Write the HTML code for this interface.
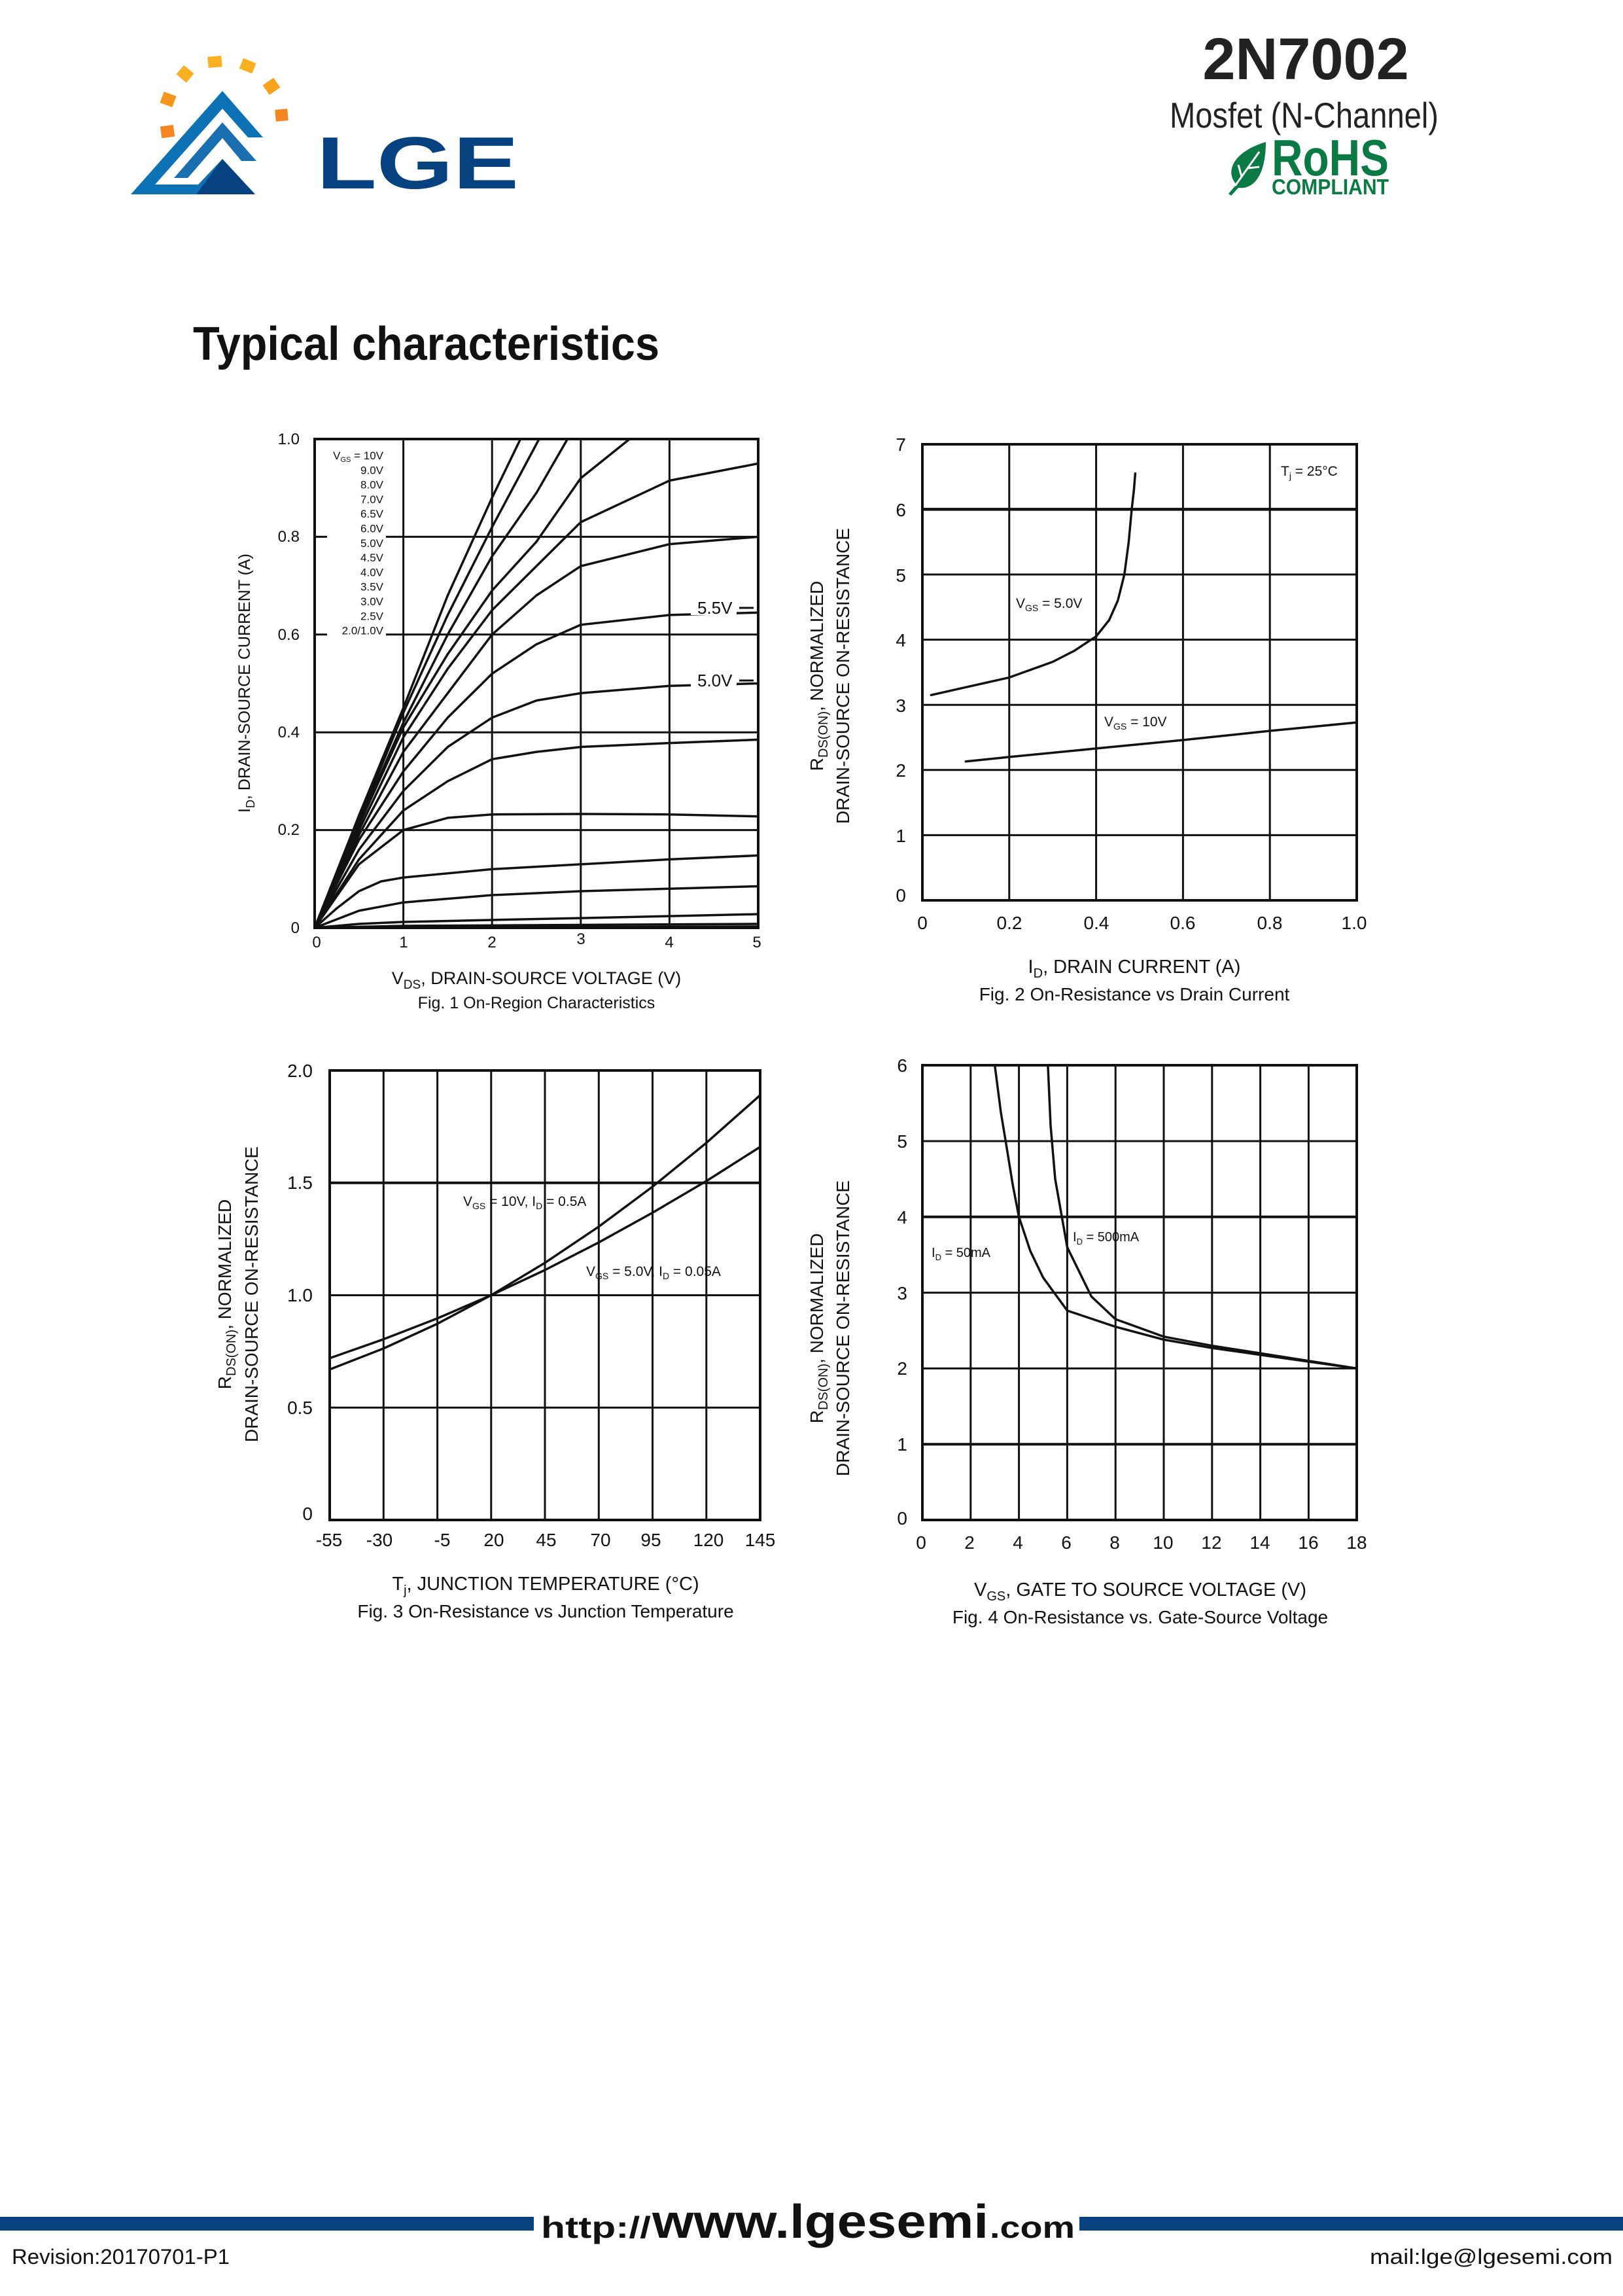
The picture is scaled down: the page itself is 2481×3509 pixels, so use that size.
<!DOCTYPE html>
<html><head><meta charset="utf-8">
<style>
html,body{margin:0;padding:0;background:#fff;}
svg{display:block;}
text{font-family:"Liberation Sans",Arial,sans-serif;fill:#111;}
.g line{stroke:#111;stroke-width:3;}
.c polyline{stroke:#111;stroke-width:3.5;fill:none;stroke-linejoin:round;stroke-linecap:round;}
</style></head>
<body>
<svg width="2481" height="3509" viewBox="0 0 2481 3509" xmlns="http://www.w3.org/2000/svg">
<rect width="2481" height="3509" fill="#fff"/>
<!-- Logo -->
<g>
<rect x="246" y="192" width="20" height="18" fill="#f5861f" transform="rotate(-8 256 201)"/>
<rect x="247" y="143" width="20" height="18" fill="#f7941d" transform="rotate(20 257 152)"/>
<rect x="273" y="104" width="20" height="18" fill="#fbb022" transform="rotate(40 283 113)"/>
<rect x="318" y="86" width="21" height="17" fill="#fbb022" transform="rotate(-5 328 95)"/>
<rect x="368" y="92" width="21" height="17" fill="#fbb022" transform="rotate(22 378 101)"/>
<rect x="405" y="123" width="20" height="18" fill="#f9a21b" transform="rotate(-35 415 132)"/>
<rect x="421" y="167" width="19" height="18" fill="#f5861f" transform="rotate(-5 430 176)"/>
<polygon points="340,139 402,210 379,210 340,166 237,282 303,282 340,243 390,297 200,297" fill="#0d72b5"/>
<polygon points="340,187 392,246 369,246 340,211 287,272 266,272" fill="#1a6fb0"/>
<polygon points="340,243 390,297 300,297" fill="#05427f"/>
<text x="484" y="288" font-size="113" font-weight="bold" textLength="309" lengthAdjust="spacingAndGlyphs" style="fill:#05427f">LGE</text>
</g>
<!-- Header right -->
<text x="1996" y="121" font-size="90" font-weight="bold" text-anchor="middle" style="fill:#222">2N7002</text>
<text x="1788" y="195" font-size="55" textLength="411" lengthAdjust="spacingAndGlyphs" style="fill:#222">Mosfet (N-Channel)</text>
<path d="M1878,296 L1890,282 C1872,262 1885,232 1935,217 C1935,262 1920,290 1893,287 L1882,299 Z" fill="#0a7a45"/>
<path d="M1888,284 L1925,232 M1898,270 L1893,252 M1908,257 L1925,255" stroke="#fff" stroke-width="3" fill="none"/>
<text x="1944" y="268" font-size="78" font-weight="bold" textLength="179" lengthAdjust="spacingAndGlyphs" style="fill:#0a7a45">RoHS</text>
<text x="1944" y="297" font-size="33" font-weight="bold" textLength="179" lengthAdjust="spacingAndGlyphs" style="fill:#0a7a45">COMPLIANT</text>
<text x="295" y="550" font-size="72" font-weight="bold" textLength="713" lengthAdjust="spacingAndGlyphs">Typical characteristics</text>

<!-- Frames & grids -->
<g fill="none" stroke="#111" stroke-width="4">
<rect x="481" y="671" width="678" height="747"/>
<rect x="1410" y="679" width="664" height="697"/>
<rect x="504" y="1636" width="658" height="687"/>
<rect x="1410" y="1628" width="664" height="695"/>
</g>
<g class="g">
<line x1="616.6" y1="671" x2="616.6" y2="1418"/><line x1="752.2" y1="671" x2="752.2" y2="1418"/><line x1="887.8" y1="671" x2="887.8" y2="1418"/><line x1="1023.4" y1="671" x2="1023.4" y2="1418"/>
<line x1="481" y1="1268.6" x2="1159" y2="1268.6"/><line x1="481" y1="1119.2" x2="1159" y2="1119.2"/><line x1="481" y1="969.8" x2="1159" y2="969.8"/><line x1="481" y1="820.4" x2="1159" y2="820.4"/>
<line x1="1542.8" y1="679" x2="1542.8" y2="1376"/><line x1="1675.6" y1="679" x2="1675.6" y2="1376"/><line x1="1808.4" y1="679" x2="1808.4" y2="1376"/><line x1="1941.2" y1="679" x2="1941.2" y2="1376"/>
<line x1="1410" y1="1276.4" x2="2074" y2="1276.4"/><line x1="1410" y1="1176.8" x2="2074" y2="1176.8"/><line x1="1410" y1="1077.2" x2="2074" y2="1077.2"/><line x1="1410" y1="977.6" x2="2074" y2="977.6"/><line x1="1410" y1="878" x2="2074" y2="878"/><line x1="1410" y1="778.4" x2="2074" y2="778.4" style="stroke-width:4.5"/>
<line x1="586.3" y1="1636" x2="586.3" y2="2323"/><line x1="668.6" y1="1636" x2="668.6" y2="2323"/><line x1="750.8" y1="1636" x2="750.8" y2="2323"/><line x1="833" y1="1636" x2="833" y2="2323"/><line x1="915.3" y1="1636" x2="915.3" y2="2323"/><line x1="997.5" y1="1636" x2="997.5" y2="2323"/><line x1="1079.8" y1="1636" x2="1079.8" y2="2323"/>
<line x1="504" y1="2151.3" x2="1162" y2="2151.3"/><line x1="504" y1="1979.5" x2="1162" y2="1979.5"/><line x1="504" y1="1807.8" x2="1162" y2="1807.8" style="stroke-width:4"/>
<line x1="1483.8" y1="1628" x2="1483.8" y2="2323"/><line x1="1557.6" y1="1628" x2="1557.6" y2="2323"/><line x1="1631.4" y1="1628" x2="1631.4" y2="2323"/><line x1="1705.2" y1="1628" x2="1705.2" y2="2323"/><line x1="1779" y1="1628" x2="1779" y2="2323"/><line x1="1852.8" y1="1628" x2="1852.8" y2="2323"/><line x1="1926.6" y1="1628" x2="1926.6" y2="2323"/><line x1="2000.4" y1="1628" x2="2000.4" y2="2323"/>
<line x1="1410" y1="2207.2" x2="2074" y2="2207.2" style="stroke-width:4"/><line x1="1410" y1="2091.4" x2="2074" y2="2091.4"/><line x1="1410" y1="1975.6" x2="2074" y2="1975.6"/><line x1="1410" y1="1859.8" x2="2074" y2="1859.8" style="stroke-width:4"/><line x1="1410" y1="1744" x2="2074" y2="1744"/>
</g>

<!-- Curves -->
<g class="c">
<!-- Fig1 -->
<polyline points="481,1418 548.8,1246.2 616.6,1081.9 684.4,910 752.2,760.6 795.6,671"/>
<polyline points="481,1418 548.8,1253.7 616.6,1089.3 684.4,939.9 752.2,805.5 824.1,671"/>
<polyline points="481,1418 548.8,1257.4 616.6,1104.3 684.4,969.8 752.2,850.3 820,753.2 867.5,671"/>
<polyline points="481,1418 548.8,1261.1 616.6,1111.7 684.4,999.7 752.2,902.6 820,827.9 887.8,730.8 962.4,671"/>
<polyline points="481,1418 548.8,1268.6 616.6,1126.7 684.4,1022.1 752.2,932.5 820,865.2 887.8,798 1023.4,734.5 1159,708.4"/>
<polyline points="481,1418 548.8,1276.1 616.6,1149.1 684.4,1059.4 752.2,969.8 820,910 887.8,865.2 1023.4,831.6 1159,820.4"/>
<polyline points="481,1418 548.8,1283.5 616.6,1179 684.4,1096.8 752.2,1029.6 820,984.7 887.8,954.9 1023.4,939.9 1159,936.2"/>
<polyline points="481,1418 548.8,1298.5 616.6,1208.8 684.4,1141.6 752.2,1096.8 820,1070.6 887.8,1059.4 1023.4,1048.2 1159,1044.5"/>
<polyline points="481,1418 548.8,1313.4 616.6,1238.7 684.4,1193.9 752.2,1160.3 820,1149.1 887.8,1141.6 1023.4,1135.6 1159,1130.4"/>
<polyline points="481,1418 548.8,1320.9 616.6,1268.6 684.4,1249.9 752.2,1244.7 887.8,1244 1023.4,1244.7 1159,1247.7"/>
<polyline points="481,1418 514.9,1388.1 548.8,1362 582.7,1347 616.6,1341.1 752.2,1328.4 887.8,1320.9 1023.4,1313.4 1159,1307.4"/>
<polyline points="481,1418 548.8,1391.9 616.6,1379.2 752.2,1368 887.8,1362 1023.4,1358.2 1159,1354.5"/>
<polyline points="481,1418 548.8,1412 616.6,1409 752.2,1406 887.8,1403.1 1023.4,1400.1 1159,1397.1"/>
<polyline points="481,1418 616.6,1415 1159,1412"/>
<polyline points="481,1418 1159,1416"/>
<!-- Fig2 -->
<polyline points="1423.3,1062.3 1476.4,1050.3 1542.8,1035.4 1609.2,1011.5 1642.4,994.5 1675.6,972.6 1695.5,947.7 1708.8,917.8 1718.8,878 1725.4,828.2 1730,778.4 1733.4,748.5 1735.4,723.6"/>
<polyline points="1476.4,1163.8 1542.8,1156.9 1675.6,1143.9 1808.4,1131 1941.2,1117 2074,1104.1"/>
<!-- Fig3 -->
<polyline points="504,2092.9 586.3,2060.9 668.6,2023.1 750.8,1979.5 833,1930 915.3,1874.7 997.5,1813.6 1079.8,1746.6 1162,1673.8"/>
<polyline points="504,2075.7 586.3,2046.8 668.6,2014.9 750.8,1979.5 833,1941 915.3,1898.8 997.5,1853.4 1079.8,1805 1162,1752.8"/>
<!-- Fig4 -->
<polyline points="1520.7,1628.2 1530,1700 1539.2,1755.6 1548,1810 1557.6,1859.8 1575,1912 1594.5,1952.4 1631.4,2003 1705.2,2027.7 1779,2047.4 1852.8,2060.1 1926.6,2070.6 2000.4,2081 2074,2091.4"/>
<polyline points="1601.9,1628.2 1606,1720 1613,1801.9 1631.4,1906.1 1668.3,1981.4 1705.2,2016.1 1779,2042.8 1852.8,2056.7 1926.6,2068.2 2000.4,2079.8 2074,2091.4"/>
</g>

<!-- Fig1 texts -->
<g font-size="24">
<text x="458" y="679" text-anchor="end">1.0</text>
<text x="458" y="828" text-anchor="end">0.8</text>
<text x="458" y="978" text-anchor="end">0.6</text>
<text x="458" y="1127" text-anchor="end">0.4</text>
<text x="458" y="1276" text-anchor="end">0.2</text>
<text x="458" y="1426" text-anchor="end">0</text>
<text x="484" y="1448" text-anchor="middle">0</text>
<text x="617" y="1448" text-anchor="middle">1</text>
<text x="752" y="1448" text-anchor="middle">2</text>
<text x="888" y="1443" text-anchor="middle">3</text>
<text x="1023" y="1448" text-anchor="middle">4</text>
<text x="1157" y="1448" text-anchor="middle">5</text>
</g>
<g fill="#fff">
<rect x="500" y="687" width="90" height="19"/>
<rect x="540" y="798" width="50" height="20"/>
<rect x="500" y="954" width="90" height="20"/>
<rect x="500" y="816" width="90" height="9"/>
<rect x="500" y="966" width="90" height="8"/>
</g>
<g font-size="17" text-anchor="end">
<text x="586" y="702">V<tspan font-size="11" dy="4">GS</tspan><tspan dy="-4"> = 10V</tspan></text>
<text x="586" y="724.3">9.0V</text>
<text x="586" y="746.6">8.0V</text>
<text x="586" y="768.9">7.0V</text>
<text x="586" y="791.2">6.5V</text>
<text x="586" y="813.5">6.0V</text>
<text x="586" y="835.8">5.0V</text>
<text x="586" y="858.1">4.5V</text>
<text x="586" y="880.4">4.0V</text>
<text x="586" y="902.7">3.5V</text>
<text x="586" y="925">3.0V</text>
<text x="586" y="947.3">2.5V</text>
<text x="586" y="969.6">2.0/1.0V</text>
</g>
<rect x="1056" y="908" width="70" height="32" fill="#fff"/>
<rect x="1056" y="1024" width="70" height="32" fill="#fff"/>
<text x="1066" y="938" font-size="26">5.5V</text>
<text x="1066" y="1049" font-size="26">5.0V</text>
<path d="M1130,929 L1152,929 M1130,1040 L1152,1040" stroke="#111" stroke-width="3"/>
<text x="820" y="1504" font-size="27" text-anchor="middle">V<tspan font-size="19" dy="7">DS</tspan><tspan dy="-7">, DRAIN-SOURCE VOLTAGE (V)</tspan></text>
<text x="820" y="1541" font-size="25" text-anchor="middle">Fig. 1  On-Region Characteristics</text>
<text transform="translate(382,1044) rotate(-90)" font-size="25" text-anchor="middle">I<tspan font-size="18" dy="7">D</tspan><tspan dy="-7">, DRAIN-SOURCE CURRENT (A)</tspan></text>

<!-- Fig2 texts -->
<g font-size="28">
<text x="1385" y="689" text-anchor="end">7</text>
<text x="1385" y="789" text-anchor="end">6</text>
<text x="1385" y="889" text-anchor="end">5</text>
<text x="1385" y="988" text-anchor="end">4</text>
<text x="1385" y="1088" text-anchor="end">3</text>
<text x="1385" y="1187" text-anchor="end">2</text>
<text x="1385" y="1287" text-anchor="end">1</text>
<text x="1385" y="1378" text-anchor="end">0</text>
<text x="1410" y="1420" text-anchor="middle">0</text>
<text x="1543" y="1420" text-anchor="middle">0.2</text>
<text x="1676" y="1420" text-anchor="middle">0.4</text>
<text x="1808" y="1420" text-anchor="middle">0.6</text>
<text x="1941" y="1420" text-anchor="middle">0.8</text>
<text x="2070" y="1420" text-anchor="middle">1.0</text>
</g>
<text x="1553" y="929" font-size="21">V<tspan font-size="14" dy="5">GS</tspan><tspan dy="-5"> = 5.0V</tspan></text>
<text x="1688" y="1110" font-size="21">V<tspan font-size="14" dy="5">GS</tspan><tspan dy="-5"> = 10V</tspan></text>
<text x="1958" y="727" font-size="21">T<tspan font-size="14" dy="5">j</tspan><tspan dy="-5"> = 25°C</tspan></text>
<text x="1734" y="1487" font-size="29" text-anchor="middle">I<tspan font-size="20" dy="7">D</tspan><tspan dy="-7">, DRAIN CURRENT (A)</tspan></text>
<text x="1734" y="1529" font-size="28" text-anchor="middle">Fig. 2  On-Resistance vs Drain Current</text>
<text transform="translate(1258,1033) rotate(-90)" font-size="28" text-anchor="middle">R<tspan font-size="20" dy="7">DS(ON)</tspan><tspan dy="-7">, NORMALIZED</tspan></text>
<text transform="translate(1298,1033) rotate(-90)" font-size="28" text-anchor="middle">DRAIN-SOURCE ON-RESISTANCE</text>

<!-- Fig3 texts -->
<g font-size="28">
<text x="478" y="1646" text-anchor="end">2.0</text>
<text x="478" y="1817" text-anchor="end">1.5</text>
<text x="478" y="1989" text-anchor="end">1.0</text>
<text x="478" y="2161" text-anchor="end">0.5</text>
<text x="478" y="2323" text-anchor="end">0</text>
<text x="503" y="2363" text-anchor="middle">-55</text>
<text x="580" y="2363" text-anchor="middle">-30</text>
<text x="676" y="2363" text-anchor="middle">-5</text>
<text x="755" y="2363" text-anchor="middle">20</text>
<text x="835" y="2363" text-anchor="middle">45</text>
<text x="918" y="2363" text-anchor="middle">70</text>
<text x="995" y="2363" text-anchor="middle">95</text>
<text x="1083" y="2363" text-anchor="middle">120</text>
<text x="1162" y="2363" text-anchor="middle">145</text>
</g>
<text x="708" y="1843" font-size="21">V<tspan font-size="14" dy="5">GS</tspan><tspan dy="-5"> = 10V, I</tspan><tspan font-size="14" dy="5">D</tspan><tspan dy="-5"> = 0.5A</tspan></text>
<text x="896" y="1950" font-size="21">V<tspan font-size="14" dy="5">GS</tspan><tspan dy="-5"> = 5.0V, I</tspan><tspan font-size="14" dy="5">D</tspan><tspan dy="-5"> = 0.05A</tspan></text>
<text x="834" y="2430" font-size="29" text-anchor="middle">T<tspan font-size="20" dy="7">j</tspan><tspan dy="-7">, JUNCTION TEMPERATURE (°C)</tspan></text>
<text x="834" y="2472" font-size="28" text-anchor="middle">Fig. 3  On-Resistance vs Junction Temperature</text>
<text transform="translate(353,1978) rotate(-90)" font-size="28" text-anchor="middle">R<tspan font-size="20" dy="7">DS(ON)</tspan><tspan dy="-7">, NORMALIZED</tspan></text>
<text transform="translate(394,1978) rotate(-90)" font-size="28" text-anchor="middle">DRAIN-SOURCE ON-RESISTANCE</text>

<!-- Fig4 texts -->
<g font-size="28">
<text x="1387" y="1638" text-anchor="end">6</text>
<text x="1387" y="1754" text-anchor="end">5</text>
<text x="1387" y="1870" text-anchor="end">4</text>
<text x="1387" y="1986" text-anchor="end">3</text>
<text x="1387" y="2101" text-anchor="end">2</text>
<text x="1387" y="2217" text-anchor="end">1</text>
<text x="1387" y="2330" text-anchor="end">0</text>
<text x="1408" y="2367" text-anchor="middle">0</text>
<text x="1482" y="2367" text-anchor="middle">2</text>
<text x="1556" y="2367" text-anchor="middle">4</text>
<text x="1630" y="2367" text-anchor="middle">6</text>
<text x="1704" y="2367" text-anchor="middle">8</text>
<text x="1778" y="2367" text-anchor="middle">10</text>
<text x="1852" y="2367" text-anchor="middle">12</text>
<text x="1926" y="2367" text-anchor="middle">14</text>
<text x="2000" y="2367" text-anchor="middle">16</text>
<text x="2074" y="2367" text-anchor="middle">18</text>
</g>
<text x="1424" y="1921" font-size="20">I<tspan font-size="13" dy="5">D</tspan><tspan dy="-5"> = 50mA</tspan></text>
<text x="1640" y="1897" font-size="20">I<tspan font-size="13" dy="5">D</tspan><tspan dy="-5"> = 500mA</tspan></text>
<text x="1743" y="2439" font-size="29" text-anchor="middle">V<tspan font-size="20" dy="7">GS</tspan><tspan dy="-7">, GATE TO SOURCE VOLTAGE (V)</tspan></text>
<text x="1743" y="2481" font-size="28" text-anchor="middle">Fig. 4  On-Resistance vs. Gate-Source Voltage</text>
<text transform="translate(1258,2030) rotate(-90)" font-size="28" text-anchor="middle">R<tspan font-size="20" dy="7">DS(ON)</tspan><tspan dy="-7">, NORMALIZED</tspan></text>
<text transform="translate(1298,2030) rotate(-90)" font-size="28" text-anchor="middle">DRAIN-SOURCE ON-RESISTANCE</text>

<!-- Footer -->
<rect x="0" y="3388" width="816" height="21" fill="#05427f"/>
<rect x="1650" y="3388" width="831" height="21" fill="#05427f"/>
<text x="827" y="3420" font-size="46" font-weight="bold" textLength="168" lengthAdjust="spacingAndGlyphs">http://</text>
<text x="997" y="3420" font-size="72" font-weight="bold" textLength="514" lengthAdjust="spacingAndGlyphs">www.lgesemi</text>
<text x="1513" y="3420" font-size="46" font-weight="bold" textLength="130" lengthAdjust="spacingAndGlyphs">.com</text>
<text x="18" y="3460" font-size="32" textLength="333" lengthAdjust="spacingAndGlyphs">Revision:20170701-P1</text>
<text x="2094" y="3460" font-size="32" textLength="371" lengthAdjust="spacingAndGlyphs">mail:lge@lgesemi.com</text>
</svg>
</body></html>
